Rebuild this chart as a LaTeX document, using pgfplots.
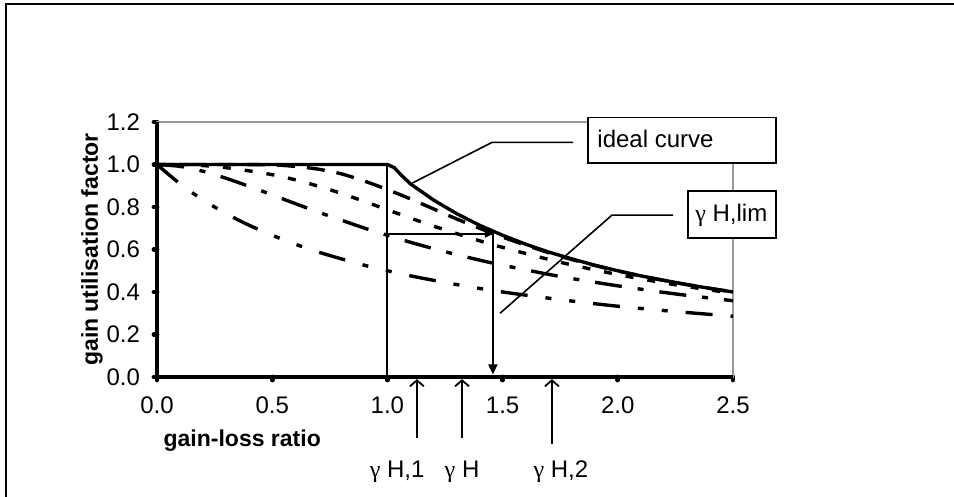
\documentclass[border=0pt]{standalone}
\usepackage{fontspec}
\setmainfont{Liberation Sans}
\newfontfamily\greekfont{Liberation Serif}
\usepackage{pgfplots}
\pgfplotsset{compat=1.18}
\usetikzlibrary{arrows.meta}

\begin{document}
\begin{tikzpicture}
\useasboundingbox (-78.5pt,-60pt) rectangle (398.5pt,188.5pt);
\draw[line width=1pt] (-75.5pt,-60pt) -- (-75.5pt,186.5pt) -- (398.5pt,186.5pt);
\begin{axis}[
  at={(0,0)}, anchor=south west,
  scale only axis, width=288pt, height=127.5pt,
  xmin=0, xmax=2.5, ymin=0, ymax=1.2,
  xtick={0,0.5,1,1.5,2,2.5},
  ytick={0,0.2,0.4,0.6,0.8,1.0,1.2},
  xtick pos=bottom, ytick pos=left, tick align=outside,
  major tick length=1.5pt,
  tick style={black, line width=2.4pt, line cap=round},
  axis line style={gray!80, line width=0.6pt},
  /pgf/number format/assume math mode=true,
  /pgf/number format/fixed,
  /pgf/number format/fixed zerofill,
  /pgf/number format/precision=1,
  ticklabel style={font=\fontsize{12}{14}\selectfont},
  xticklabel style={yshift=-5pt},
  yticklabel style={xshift=-3.5pt},
  xlabel={gain-loss ratio},
  ylabel={gain utilisation factor},
  label style={font=\fontsize{11.5}{13}\selectfont\bfseries},
  xlabel style={at={(axis description cs:0.148,0)}, anchor=center, yshift=-32pt},
  ylabel style={at={(axis description cs:-0.113,0.5)}, anchor=center},
  clip=false,
]
% ideal curve
\addplot[black, line width=1.7pt] table {
0 1
1.0 1.0
1.03 0.985
1.06 0.95
1.1 0.909
1.2 0.833
1.3 0.769
1.4 0.714
1.5 0.667
1.6 0.625
1.7 0.588
1.8 0.556
1.9 0.526
2.0 0.5
2.1 0.476
2.2 0.455
2.3 0.435
2.4 0.417
2.5 0.4
};
% top dashed curve
\addplot[black, line width=1.7pt, smooth, dash pattern=on 9pt off 6pt] table {
0 1
0.3 1.0
0.5 0.998
0.6 0.991
0.7 0.978
0.8 0.956
0.9 0.922
1.0 0.882
1.1 0.838
1.2 0.791
1.3 0.744
1.4 0.700
1.5 0.658
1.75 0.568
2.0 0.499
2.25 0.444
2.5 0.400
};
% second curve
\addplot[black, line width=1.7pt, smooth, dash pattern=on 4pt off 7pt] table {
0 1
0.1 1.0
0.2 0.995
0.3 0.985
0.4 0.97
0.5 0.952
0.6 0.928
0.7 0.898
0.8 0.864
0.9 0.826
1.0 0.787
1.1 0.748
1.2 0.71
1.3 0.675
1.4 0.641
1.5 0.61
1.75 0.54
2.0 0.482
2.25 0.434
2.5 0.394
};
% third curve
\addplot[black, line width=1.7pt, smooth, dash pattern=on 13.5pt off 8pt on 3pt off 8pt] table {
0 1
0.1 0.991
0.2 0.968
0.3 0.935
0.4 0.897
0.5 0.857
0.6 0.816
0.7 0.776
0.8 0.738
0.9 0.701
1.0 0.667
1.1 0.634
1.2 0.604
1.3 0.576
1.4 0.550
1.5 0.526
1.75 0.473
2.0 0.429
2.25 0.391
2.5 0.359
};
% lowest curve
\addplot[black, line width=1.7pt, smooth, dash pattern=on 13.5pt off 9pt on 3pt off 9pt on 3pt off 9pt] table {
0 1
0.1 0.909
0.2 0.833
0.3 0.769
0.4 0.714
0.5 0.667
0.6 0.625
0.7 0.588
0.8 0.556
0.9 0.526
1.0 0.5
1.1 0.476
1.2 0.455
1.3 0.435
1.4 0.417
1.5 0.4
1.75 0.364
2.0 0.333
2.25 0.308
2.5 0.286
};

% construction lines
\draw[line width=1pt] (axis cs:1,0) -- (axis cs:1,1);
\draw[line width=1pt, -{Triangle[length=4pt,width=3.5pt]}] (axis cs:1,0.673) -- (axis cs:1.458,0.673);
\draw[line width=1pt, -{Triangle[length=5pt,width=4.5pt]}] (axis cs:1.458,0.686) -- (axis cs:1.458,0.012);

% callout lines
\draw[line width=0.8pt] (axis cs:1.107,0.912) -- (axis cs:1.454,1.104) -- (axis cs:1.806,1.104);
\draw[line width=0.8pt] (axis cs:1.489,0.30) -- (axis cs:1.975,0.762) -- (axis cs:2.240,0.762);

% arrows below the x axis
\draw[line width=0.9pt, -{Straight Barb[length=3pt,width=7pt]}] (axis cs:1.128,-0.287) -- (axis cs:1.128,-0.01);
\draw[line width=0.9pt, -{Straight Barb[length=3pt,width=7pt]}] (axis cs:1.324,-0.287) -- (axis cs:1.324,-0.01);
\draw[line width=0.9pt, -{Straight Barb[length=3pt,width=7pt]}] (axis cs:1.714,-0.315) -- (axis cs:1.714,-0.01);
\node[font=\fontsize{12}{14}\selectfont] at (axis cs:1.042,-0.447) {{\greekfont γ} H,1};
\node[font=\fontsize{12}{14}\selectfont] at (axis cs:1.324,-0.447) {{\greekfont γ} H};
\node[font=\fontsize{12}{14}\selectfont] at (axis cs:1.753,-0.447) {{\greekfont γ} H,2};

\coordinate (ia) at (axis cs:1.871,1.006);
\coordinate (ib) at (axis cs:2.687,1.222);
\coordinate (it) at (axis cs:1.91,1.118);
\coordinate (la) at (axis cs:2.305,0.655);
\coordinate (lb) at (axis cs:2.687,0.875);
\coordinate (lt) at (axis cs:2.335,0.762);
\end{axis}
% thick left and bottom axis lines
\draw[line width=2pt] (0,127.5pt) -- (0,0) -- (288pt,0);
% callout boxes
\draw[fill=white, line width=0.8pt] (ia) rectangle (ib);
\node[anchor=west, inner sep=0pt, font=\fontsize{12}{14}\selectfont] at (it) {ideal curve};
\draw[fill=white, line width=0.8pt] (la) rectangle (lb);
\node[anchor=west, inner sep=0pt, font=\fontsize{12}{14}\selectfont] at (lt) {{\greekfont γ} H,lim};
\end{tikzpicture}
\end{document}
